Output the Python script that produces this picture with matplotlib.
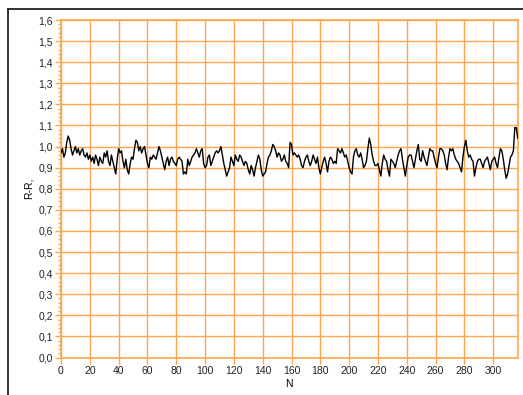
import matplotlib
matplotlib.use("Agg")
import matplotlib.pyplot as plt
import numpy as np
from matplotlib.lines import Line2D
from matplotlib.ticker import FuncFormatter, MultipleLocator

#R-R values, N = 0..317
rr = [
    0.97, 0.99, 0.95, 0.97, 1.02, 1.05, 1.03, 0.99, 0.96, 0.98,  # 0
    1.00, 0.97, 0.99, 0.96, 0.98, 0.99, 0.96, 0.95, 0.97, 0.94,  # 10
    0.96, 0.93, 0.95, 0.92, 0.96, 0.94, 0.91, 0.95, 0.93, 0.92,  # 20
    0.97, 0.95, 0.98, 0.93, 0.91, 0.96, 0.93, 0.90, 0.87, 0.94,  # 30
    0.99, 0.97, 0.98, 0.93, 0.90, 0.94, 0.89, 0.87, 0.92, 0.95,  # 40
    0.94, 0.99, 1.03, 1.02, 0.98, 1.00, 0.97, 0.99, 1.00, 0.96,  # 50
    0.92, 0.90, 0.95, 0.94, 0.96, 0.95, 0.94, 0.97, 1.00, 0.98,  # 60
    0.95, 0.92, 0.89, 0.93, 0.95, 0.91, 0.94, 0.95, 0.93, 0.92,  # 70
    0.91, 0.94, 0.95, 0.94, 0.93, 0.87, 0.88, 0.87, 0.94, 0.91,  # 80
    0.93, 0.95, 0.96, 0.97, 0.99, 0.97, 0.95, 0.98, 0.99, 0.92,  # 90
    0.90, 0.91, 0.95, 0.96, 0.91, 0.93, 0.95, 0.97, 0.98, 0.97,  # 100
    0.98, 1.00, 0.96, 0.92, 0.89, 0.86, 0.88, 0.90, 0.95, 0.93,  # 110
    0.91, 0.96, 0.94, 0.93, 0.96, 0.95, 0.93, 0.91, 0.93, 0.92,  # 120
    0.89, 0.87, 0.91, 0.89, 0.86, 0.90, 0.93, 0.96, 0.94, 0.89,  # 130
    0.86, 0.87, 0.88, 0.92, 0.95, 0.96, 0.98, 1.01, 1.00, 0.98,  # 140
    0.95, 0.97, 0.96, 0.93, 0.94, 0.96, 0.93, 0.92, 0.90, 1.02,  # 150
    1.01, 0.96, 0.97, 0.96, 0.95, 0.96, 0.94, 0.91, 0.90, 0.93,  # 160
    0.95, 0.96, 0.93, 0.91, 0.93, 0.96, 0.94, 0.92, 0.95, 0.90,  # 170
    0.87, 0.90, 0.93, 0.95, 0.92, 0.88, 0.93, 0.95, 0.94, 0.92,  # 180
    0.93, 0.92, 0.99, 0.98, 0.97, 0.99, 0.97, 0.95, 0.96, 0.93,  # 190
    0.90, 0.88, 0.87, 0.95, 0.98, 0.99, 0.96, 0.95, 0.97, 0.94,  # 200
    0.90, 0.91, 0.93, 0.99, 1.04, 1.01, 0.96, 0.93, 0.91, 0.91,  # 210
    0.92, 0.89, 0.86, 0.92, 0.96, 0.94, 0.93, 0.89, 0.86, 0.94,  # 220
    0.93, 0.92, 0.90, 0.93, 0.96, 0.98, 0.99, 0.94, 0.90, 0.86,  # 230
    0.91, 0.95, 0.96, 0.96, 0.93, 0.90, 0.94, 0.98, 1.01, 0.94,  # 240
    0.93, 0.98, 0.95, 0.93, 0.91, 0.95, 0.99, 0.98, 0.98, 0.95,  # 250
    0.92, 0.90, 0.95, 0.99, 0.99, 0.98, 0.96, 0.92, 0.89, 0.95,  # 260
    0.99, 0.98, 0.99, 0.96, 0.94, 0.93, 0.92, 0.90, 0.88, 0.95,  # 270
    1.00, 1.03, 0.98, 0.95, 0.96, 0.94, 0.93, 0.86, 0.90, 0.93,  # 280
    0.94, 0.94, 0.92, 0.90, 0.93, 0.94, 0.95, 0.92, 0.89, 0.93,  # 290
    0.94, 0.95, 0.92, 0.90, 0.95, 0.99, 0.98, 0.94, 0.89, 0.85,  # 300
    0.87, 0.91, 0.95, 0.96, 0.98, 1.09, 1.09, 1.04,              # 310
]
n = np.arange(len(rr))

orange = '#FFA54F'
plt.rcParams['font.family'] = ['Liberation Sans', 'DejaVu Sans']
plt.rcParams['font.size'] = 7.5

fig = plt.figure(figsize=(5.23, 3.95), dpi=100)
ax = fig.add_axes([61/523, 1 - 357.5/395, (517.7 - 61)/523, (357.5 - 20)/395])

ax.plot(n, rr, color='black', lw=1.0, zorder=3)

ax.set_xlim(0, 317)
ax.set_ylim(0, 1.6)
ax.xaxis.set_major_locator(MultipleLocator(20))
ax.yaxis.set_major_locator(MultipleLocator(0.1))
ax.yaxis.set_minor_locator(MultipleLocator(0.02))
ax.yaxis.set_major_formatter(FuncFormatter(lambda v, p: ('%.1f' % v).replace('.', ',')))

ax.grid(True, which='major', color=orange, lw=1.0)
for s in ax.spines.values():
    s.set_color(orange)
    s.set_linewidth(1.2)
ax.tick_params(which='major', color=orange, length=4, width=1, pad=2, labelcolor='#222222')
ax.tick_params(which='minor', color=orange, length=2.5, width=1)

ax.set_xlabel('N', labelpad=2)
ax.set_ylabel('R-R,', labelpad=3)

#black border at top and left of the picture
fig.add_artist(Line2D([8/523, 8/523], [0, 1 - 9/395], color='#222222', lw=1.3, transform=fig.transFigure))
fig.add_artist(Line2D([8/523, 1], [1 - 9/395, 1 - 9/395], color='#222222', lw=1.3, transform=fig.transFigure))

fig.savefig('out.png', dpi=100)
